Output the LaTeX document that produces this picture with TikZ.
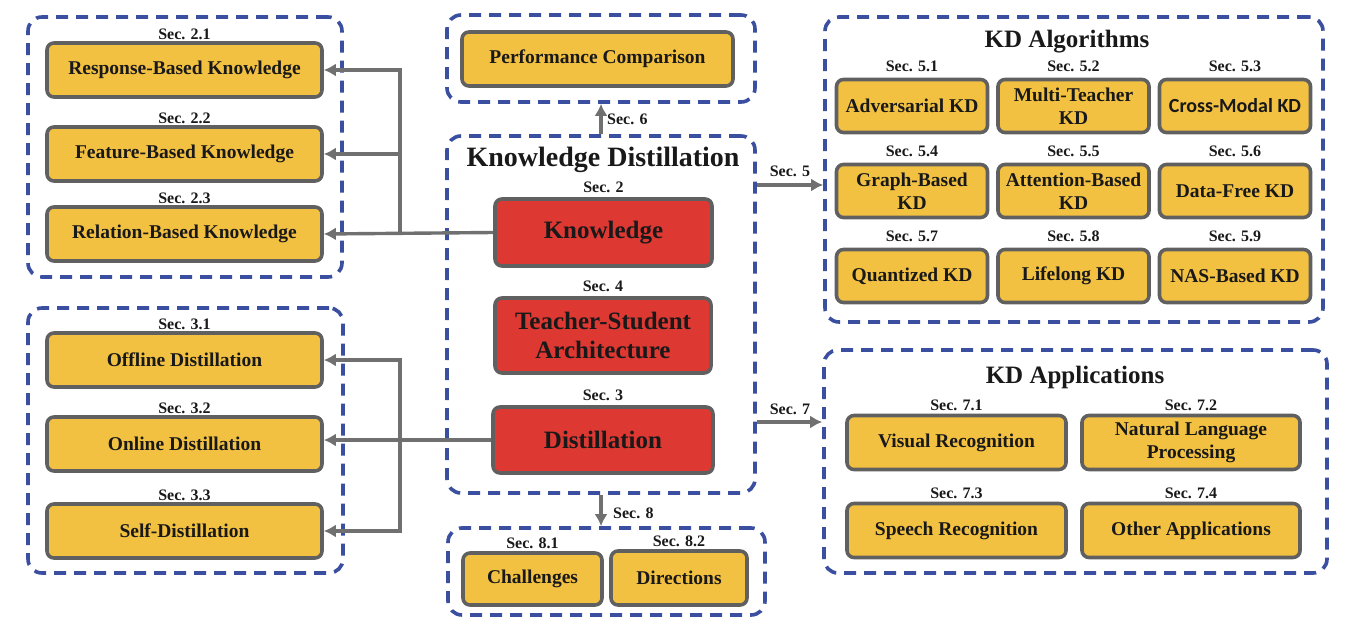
\documentclass[tikz,border=0pt]{standalone}
\usepackage{fontspec}
\setmainfont{Liberation Serif}
\setsansfont{Carlito}
\usepackage{tikz}
\usetikzlibrary{arrows,arrows.meta,shapes,positioning}
\usetikzlibrary{calc}
\definecolor{kdyellow}{HTML}{F3C142}
\definecolor{kdred}{HTML}{DE3833}
\definecolor{kdgray}{HTML}{606060}
\definecolor{kdblue}{HTML}{3B4FA0}
\tikzstyle{ybox}   = [draw=kdgray,line width=3.6pt,fill=kdyellow,rounded corners=7pt,align=center,inner sep=2pt,
                      text=black!90,font=\fontsize{19.5}{23}\selectfont\bfseries]
\tikzstyle{rbox}   = [ybox,fill=kdred,font=\fontsize{25}{29}\selectfont\bfseries]
\tikzstyle{grp}    = [draw=kdblue,line width=3.6pt,dash pattern=on 12pt off 8pt,rounded corners=14pt]
\tikzstyle{seclab} = [inner sep=0pt,text=black!90,font=\fontsize{16}{18}\selectfont\bfseries]
\tikzstyle{arrow}  = [draw=kdgray!90,line width=3.4pt,-{Latex[length=12pt,width=13pt]}]
\begin{document}
\begin{tikzpicture}[x=1pt,y=-1pt]
        \useasboundingbox (0,0) rectangle (1364,628);
        % dashed groups
        \node[grp, minimum width=314pt, minimum height=260pt] (G1) at (185,147) {};
        \node[grp, minimum width=315pt, minimum height=265pt] (G2) at (185.5,440.5) {};
        \node[grp, minimum width=308pt, minimum height=87pt] (G3) at (601,58.5) {};
        \node[grp, minimum width=308pt, minimum height=357pt] (G4) at (601,314.5) {};
        \node[grp, minimum width=317pt, minimum height=87pt] (G5) at (606.5,571.5) {};
        \node[grp, minimum width=498pt, minimum height=305pt] (G6) at (1074,169.5) {};
        \node[grp, minimum width=503pt, minimum height=223pt] (G7) at (1075.5,461.5) {};
        % knowledge
        \node[ybox, minimum width=275pt, minimum height=54pt] (L1) at (184.5,70) {Response-Based Knowledge};
        \node[ybox, minimum width=275pt, minimum height=54pt] (L2) at (184.5,154) {Feature-Based Knowledge};
        \node[ybox, minimum width=275pt, minimum height=54pt] (L3) at (184.5,234) {Relation-Based Knowledge};
        \node[seclab, above=1pt of L1] {Sec. 2.1};
        \node[seclab, above=1pt of L2] {Sec. 2.2};
        \node[seclab, above=1pt of L3] {Sec. 2.3};
        % distillation schemes
        \node[ybox, minimum width=275pt, minimum height=54pt] (L4) at (184.5,360) {Offline Distillation};
        \node[ybox, minimum width=275pt, minimum height=54pt] (L5) at (184.5,444) {Online Distillation};
        \node[ybox, minimum width=275pt, minimum height=54pt] (L6) at (184.5,531) {Self-Distillation};
        \node[seclab, above=1pt of L4] {Sec. 3.1};
        \node[seclab, above=1pt of L5] {Sec. 3.2};
        \node[seclab, above=1pt of L6] {Sec. 3.3};
        % centre
        \node[ybox, minimum width=271pt, minimum height=54pt] (N0) at (597.5,59) {Performance Comparison};
        \node[inner sep=0pt, text=black!90, font=\fontsize{28}{32}\selectfont\bfseries] (N1) at (603,160) {Knowledge Distillation};
        \node[rbox, minimum width=217pt, minimum height=67pt] (N2) at (603.5,232.5) {Knowledge};
        \node[rbox, minimum width=216pt, minimum height=75pt] (N3) at (603,335.5) {Teacher-Student\\Architecture};
        \node[rbox, minimum width=220pt, minimum height=66pt] (N4) at (603,440) {Distillation};
        \node[seclab, above=4pt of N2] {Sec. 2};
        \node[seclab, above=4pt of N3] {Sec. 4};
        \node[seclab, above=4pt of N4] {Sec. 3};
        \node[ybox, minimum width=139pt, minimum height=52pt] (N5) at (532.5,579) {Challenges};
        \node[ybox, minimum width=136pt, minimum height=54pt] (N6) at (679,578) {Directions};
        \node[seclab, above=2pt of N5] {Sec. 8.1};
        \node[seclab, above=2pt of N6] {Sec. 8.2};
        % algorithms
        \node[inner sep=0pt, text=black!90, font=\fontsize{25}{29}\selectfont\bfseries] (N7) at (1067,42) {KD Algorithms};
        \foreach \txt/\secno [count=\i from 0] in {Adversarial KD/5.1, Multi-Teacher\\KD/5.2, {\sffamily\fontsize{20}{23}\selectfont Cross-Modal KD}/5.3,
            Graph-Based\\KD/5.4, Attention-Based\\KD/5.5, Data-Free KD/5.6,
            Quantized KD/5.7, Lifelong KD/5.8, NAS-Based KD/5.9}
        {
            \pgfmathtruncatemacro{\col}{mod(\i,3)}
            \pgfmathtruncatemacro{\row}{div(\i,3)}
            \node[ybox, minimum width=151pt, minimum height=53pt] (A\i) at (912+161.5*\col, 106+85*\row) {\txt};
            \node[seclab, above=6pt of A\i] {Sec. \secno};
        }
        % applications
        \node[inner sep=0pt, text=black!90, font=\fontsize{25}{29}\selectfont\bfseries] (N8) at (1075,377) {KD Applications};
        \node[ybox, minimum width=219pt, minimum height=54pt] (P1) at (956.5,442.5) {Visual Recognition};
        \node[ybox, minimum width=218pt, minimum height=54pt] (P2) at (1191,442.5) {Natural Language\\Processing};
        \node[ybox, minimum width=219pt, minimum height=54pt] (P3) at (956.5,530.5) {Speech Recognition};
        \node[ybox, minimum width=218pt, minimum height=54pt] (P4) at (1191,530.5) {Other Applications};
        \node[seclab, above=3pt of P1] {Sec. 7.1};
        \node[seclab, above=3pt of P2] {Sec. 7.2};
        \node[seclab, above=3pt of P3] {Sec. 7.3};
        \node[seclab, above=3pt of P4] {Sec. 7.4};
        % connectors
        \coordinate (C0) at (400,0);
        \coordinate (C5) at (790,185);
        \coordinate (C7) at (790,422);
        \draw[arrow] (N2.west) -- (L3.east);
        \draw[arrow] (C0 |- L3.east) |- (L1.east);
        \draw[arrow] (C0 |- L2.east) -- (L2.east);
        \draw[draw=kdgray!90, line width=3.4pt] (N4.west) -- (C0 |- N4.west);
        \draw[arrow] (C0 |- N4.west) -- (N4.west -| L5.east);
        \draw[arrow] (C0 |- N4.west) |- (L4.east);
        \draw[arrow] (C0 |- N4.west) |- (L6.east);
        \draw[arrow] (G4.north) -- (G3.south);
        \node[seclab, right=6pt] at ($(G4.north)!0.5!(G3.south)$) {Sec. 6};
        \draw[arrow] (G4.south) -- (G4.south |- G5.north);
        \node[seclab, right=12pt] at ($(G4.south)!0.6!(G4.south |- G5.north)$) {Sec. 8};
        \draw[arrow] (G4.east |- C5) -- (G6.west |- C5);
        \node[seclab, above=8pt] at (C5) {Sec. 5};
        \draw[arrow] (G4.east |- C7) -- (G7.west |- C7);
        \node[seclab, above=7pt] at (C7) {Sec. 7};
    \end{tikzpicture}
\end{document}
